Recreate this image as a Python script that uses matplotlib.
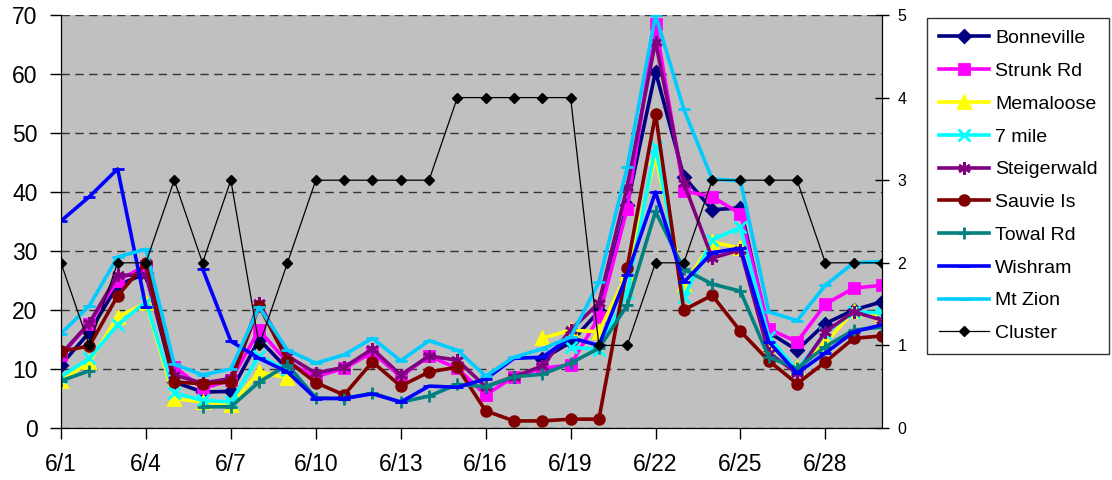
import numpy as np
import matplotlib.pyplot as plt

plt.rcParams['font.family'] = ['Liberation Sans', 'DejaVu Sans']

nan = np.nan
days = np.arange(1, 31)
tick_days = [1, 4, 7, 10, 13, 16, 19, 22, 25, 28]
tick_labels = ['6/1', '6/4', '6/7', '6/10', '6/13', '6/16', '6/19', '6/22', '6/25', '6/28']

bonneville = [10.7, 16.2, 24.2, 26.2, 7.8, 6.1, 6.2, 15.0, 10.0, nan,
              nan, nan, nan, nan, nan, nan, nan, 11.7, 14.5, 19.8,
              37.8, 60.4, 42.6, 37.0, 37.3, 16.2, 13.2, 17.7, 20.0, 21.4]
strunk = [12.3, 17.7, 25.0, 27.5, 10.4, 6.7, 8.1, 16.6, 11.1, 8.7,
          10.1, 12.8, 8.7, 12.2, 10.1, 5.6, 8.7, 10.1, 10.7, 18.8,
          37.2, 68.5, 40.2, 39.2, 36.3, 16.8, 14.6, 21.0, 23.7, 24.2]
memaloose = [8.0, 11.2, 18.8, 21.2, 5.0, 4.4, 3.9, 9.5, 8.5, nan,
             nan, nan, nan, nan, nan, nan, nan, 15.2, 16.6, 16.3,
             26.3, 46.0, 24.2, 31.5, 30.5, 14.1, 10.1, 14.4, 19.8, 18.8]
seven_mile = [8.7, 11.8, 17.5, 21.4, 5.9, 4.7, 4.4, 12.2, 9.8, nan,
              nan, nan, nan, nan, nan, nan, nan, nan, 13.7, 13.3,
              22.9, 47.7, 22.2, 31.9, 34.0, 15.4, 9.8, 16.1, 19.7, 19.5]
steigerwald = [12.5, 17.8, 25.9, 25.9, 9.0, 7.6, 8.4, 21.2, 12.2, 9.3,
               10.3, 13.4, 9.0, 12.2, 11.5, 7.0, 8.7, 10.5, 16.6, 21.2,
               40.9, 65.5, 41.5, 28.8, 30.2, 12.7, 9.3, 16.3, 19.7, 18.3]
sauvie = [13.0, 13.9, 22.4, 28.0, 7.8, 7.5, 7.8, 20.7, 11.4, 7.7,
          5.6, 11.2, 7.1, 9.5, 10.3, 2.9, 1.2, 1.2, 1.5, 1.5,
          27.2, 53.2, 20.0, 22.5, 16.4, 11.4, 7.5, 11.2, 15.2, 15.6]
towal = [8.0, 9.7, nan, nan, nan, 3.6, 3.6, 7.8, 10.7, 5.1,
         5.0, 5.9, 4.4, 5.4, 7.4, 7.0, 8.7, 9.1, 11.0, 13.5,
         20.8, 36.7, 26.9, 24.4, 23.2, 12.0, 10.1, 13.8, 16.6, 17.1]
wishram = [35.1, 39.2, 43.9, 20.5, nan, 27.0, 14.7, 11.8, 9.5, 5.0,
           5.0, 5.8, 4.4, 7.1, 6.9, 8.3, 11.8, 12.0, 15.3, 14.0,
           26.0, 40.0, 24.7, 29.7, 30.5, 14.6, 9.3, 12.7, 16.3, 17.5]
mt_zion = [16.0, 20.7, 29.0, 30.3, 10.8, 9.0, 10.0, 20.5, 13.2, 11.0,
           12.4, 15.2, 11.4, 14.8, 13.2, 8.8, 12.0, 13.4, 15.4, 24.7,
           44.2, 70.0, 54.0, 42.2, 41.9, 19.7, 18.2, 24.2, 28.0, 28.2]
cluster = [2, 1, 2, 2, 3, 2, 3, 1, 2, 3,
           3, 3, 3, 3, 4, 4, 4, 4, 4, 1,
           1, 2, 2, 3, 3, 3, 3, 2, 2, 2]

series = [
    ('Bonneville', bonneville, '#000080', 'D', 6),
    ('Strunk Rd', strunk, '#FF00FF', 's', 7),
    ('Memaloose', memaloose, '#FFFF00', '^', 8),
    ('7 mile', seven_mile, '#00FFFF', 'x', 8),
    ('Steigerwald', steigerwald, '#800080', (6, 2, 0), 9),
    ('Sauvie Is', sauvie, '#800000', 'o', 7),
    ('Towal Rd', towal, '#008080', '+', 9),
    ('Wishram', wishram, '#0000FF', '_', 9),
    ('Mt Zion', mt_zion, '#00CCFF', '_', 9),
]

fig = plt.figure(figsize=(11.12, 4.8), dpi=100)
ax = fig.add_axes([61 / 1112, 1 - 428 / 480, (882 - 61) / 1112, (428 - 15) / 480])
ax.set_facecolor('#C0C0C0')

handles = []
for name, vals, col, mk, ms in series:
    h, = ax.plot(days, vals, color=col, lw=2.6, marker=mk, ms=ms,
                 mec=col, mfc=col, mew=2, label=name)
    handles.append(h)

ax.set_xlim(1, 30)
ax.set_ylim(0, 70)
ax.set_yticks(range(0, 71, 10))
ax.set_xticks(tick_days)
ax.set_xticklabels(tick_labels)
ax.tick_params(axis='both', labelsize=16.5, length=8, width=1, direction='out')
ax.tick_params(axis='y', pad=9)
ax.tick_params(axis='x', pad=10)
ax.yaxis.grid(True, color='#333333', linestyle=(0, (6, 4)), linewidth=1)
ax.set_axisbelow(True)
ax.spines['top'].set_visible(False)

ax2 = ax.twinx()
h, = ax2.plot(days, cluster, color='black', lw=0.9, marker='D', ms=5, label='Cluster')
handles.append(h)
ax2.set_ylim(0, 5)
ax2.set_yticks(range(0, 6))
ax2.tick_params(axis='y', labelsize=11.5, length=10, width=1, direction='inout', pad=6)
ax2.spines['top'].set_visible(False)

leg = fig.legend(handles=handles, loc='upper left', bbox_to_anchor=(927 / 1112, 1 - 18 / 480),
                 bbox_transform=fig.transFigure, borderaxespad=0, fontsize=14,
                 frameon=True, fancybox=False, edgecolor='black', labelspacing=0.78,
                 handlelength=2.6, handletextpad=0.3, borderpad=0.6)
leg.get_frame().set_linewidth(1)

fig.savefig('out.png', dpi=100)
